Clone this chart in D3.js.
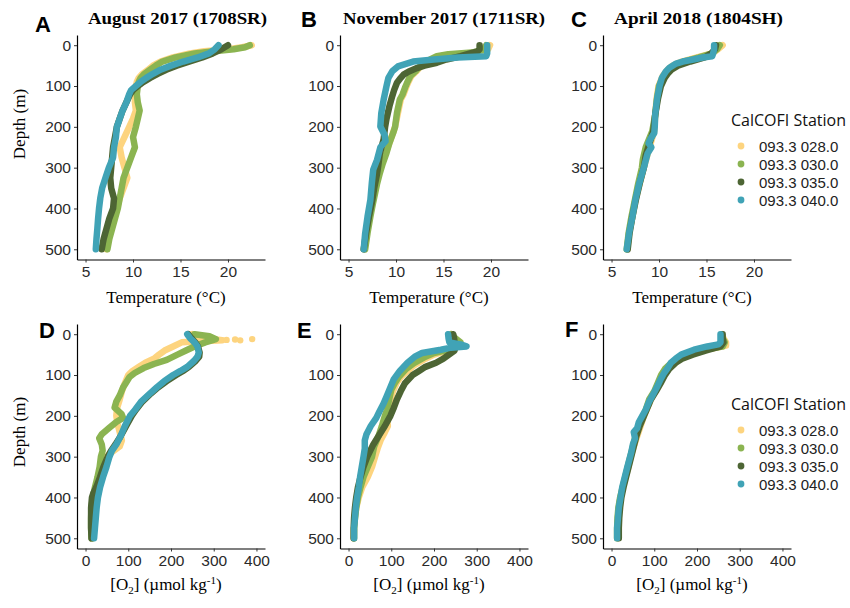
<!DOCTYPE html>
<html>
<head>
<meta charset="utf-8">
<script src="https://cdn.jsdelivr.net/npm/d3@7"></script>
<style>
  body { margin: 0; background: #fff; }
  svg { display: block; }
</style>
</head>
<body>
<svg id="chart" width="850" height="608"></svg>
<script>
// stations, in draw order (last one on top)
const stations = ["093.3 028.0", "093.3 030.0", "093.3 035.0", "093.3 040.0"];
const stationColors = ["#fdd47f", "#8bb451", "#4d6534", "#40a3b6"];

const depthTicks = [0, 100, 200, 300, 400, 500];
const tempTicks = [5, 10, 15, 20];
const oxyTicks = [0, 100, 200, 300, 400];

// [depth (m), temperature (°C)]
const augTemp028 = [[0,22.5],[5,21.5],[10,20.0],[15,17.5],[20,16.0],[30,14.2],[40,12.9],[50,12.1],[60,11.6],[70,11.0],[80,10.6],[90,10.4],[100,10.3],[120,10.2],[140,10.2],[160,10.3],[180,10.0],[200,9.6],[225,9.1],[250,8.6],[275,8.8],[300,9.1],[325,9.4],[350,9.0],[375,8.6],[400,8.3],[425,8.0],[450,7.7],[475,7.4],[500,7.2]];
const augTemp030 = [[0,22.3],[5,21.8],[10,20.6],[15,18.5],[20,16.5],[30,14.5],[40,13.1],[50,12.4],[60,11.8],[70,11.2],[80,10.8],[90,10.6],[100,10.5],[120,10.4],[140,10.5],[160,10.7],[180,10.5],[200,10.3],[225,10.0],[250,10.2],[275,9.8],[300,9.4],[325,9.0],[350,8.8],[375,8.6],[400,8.4],[425,8.1],[450,7.8],[475,7.5],[500,7.3]];
const augTemp035 = [[0,20.0],[10,19.3],[20,18.4],[30,17.3],[40,15.9],[50,14.6],[60,13.5],[70,12.6],[80,11.8],[90,11.1],[100,10.5],[110,10.0],[120,9.7],[140,9.3],[160,8.9],[180,8.6],[200,8.3],[225,8.1],[250,7.9],[275,7.8],[300,7.7],[325,7.6],[350,7.7],[375,8.0],[400,7.9],[425,7.5],[450,7.2],[475,6.9],[500,6.7]];
const augTemp040 = [[0,19.0],[10,18.6],[20,18.0],[30,16.8],[40,15.3],[50,14.0],[60,12.9],[70,12.1],[80,11.4],[90,10.8],[100,10.3],[110,9.8],[120,9.6],[140,9.3],[160,8.9],[180,8.6],[200,8.3],[225,8.2],[250,8.0],[275,7.9],[300,7.45],[325,7.1],[350,6.75],[375,6.55],[400,6.42],[425,6.32],[450,6.24],[475,6.15],[500,6.08]];

const novTemp028 = [[0,19.9],[10,19.7],[18,18.5],[22,16.5],[27,15.0],[35,14.0],[45,13.1],[52,12.6],[65,12.1],[76,11.6],[90,11.3],[101,11.1],[120,10.8],[133,10.5],[166,10.2],[200,9.9],[240,9.3],[264,8.9],[290,8.4],[313,8.1],[340,7.8],[362,7.6],[390,7.4],[420,7.2],[460,6.9],[500,6.6]];
const novTemp030 = [[0,19.5],[10,19.3],[18,18.0],[22,15.5],[27,14.3],[35,13.6],[45,13.0],[52,12.5],[65,12.0],[76,11.5],[90,11.2],[101,11.0],[120,10.7],[133,10.4],[166,10.1],[200,9.9],[215,9.7],[240,9.3],[264,9.0],[290,8.6],[313,8.3],[340,8.0],[362,7.8],[390,7.55],[420,7.3],[460,7.0],[500,6.75]];
const novTemp035 = [[0,18.8],[10,18.8],[15,18.6],[20,17.8],[27,16.8],[35,15.3],[43,14.3],[50,13.0],[56,12.2],[65,11.3],[72,10.8],[80,10.5],[92,10.1],[110,9.8],[125,9.6],[150,9.3],[180,9.0],[200,8.85],[230,8.7],[265,8.3],[300,8.1],[315,8.0],[350,7.7],[380,7.5],[420,7.15],[460,6.85],[500,6.6]];
const novTemp040 = [[0,19.6],[10,19.6],[20,19.6],[27,19.5],[30,16.5],[35,14.0],[40,11.8],[52,10.2],[64,9.6],[80,9.2],[100,9.0],[133,8.7],[166,8.45],[199,8.35],[220,8.8],[235,8.9],[250,8.35],[281,8.0],[305,7.6],[338,7.45],[379,7.3],[420,7.0],[461,6.75],[500,6.6]];

const aprTemp028 = [[0,16.7],[10,16.2],[20,15.6],[30,14.0],[40,12.4],[50,11.4],[60,10.9],[75,10.4],[100,9.95],[130,9.75],[170,9.6],[210,9.5],[250,9.0],[300,8.4],[340,7.95],[380,7.5],[420,7.2],[460,6.85],[500,6.65]];
const aprTemp030 = [[0,16.4],[10,16.1],[20,15.6],[30,14.2],[40,12.6],[50,11.6],[60,11.0],[75,10.5],[100,10.0],[130,9.8],[170,9.6],[210,9.3],[250,8.6],[280,8.3],[300,8.2],[340,7.8],[380,7.45],[420,7.1],[460,6.8],[500,6.6]];
const aprTemp035 = [[0,16.0],[10,15.9],[20,15.5],[30,14.8],[40,13.3],[50,12.0],[60,11.3],[70,10.9],[80,10.6],[100,10.2],[130,9.9],[170,9.6],[210,9.4],[240,9.0],[270,8.6],[300,8.4],[340,7.95],[380,7.55],[420,7.2],[460,6.9],[500,6.7]];
const aprTemp040 = [[0,15.8],[10,15.8],[20,15.7],[27,15.6],[30,14.6],[35,13.6],[40,12.5],[45,11.8],[55,11.1],[65,10.7],[80,10.3],[100,10.05],[130,9.8],[170,9.6],[200,9.55],[215,9.5],[230,9.1],[240,8.9],[250,9.2],[265,8.8],[300,8.4],[340,7.9],[380,7.5],[420,7.2],[460,6.85],[500,6.6]];

// [depth (m), O2 (µmol/kg)]
const augOxy028 = [[0,250],[8,275],[12,300],[15,320],[20,225],[30,205],[40,185],[50,172],[60,160],[70,140],[80,125],[90,110],[100,100],[120,92],[140,85],[160,80],[180,74],[200,72],[220,75],[240,80],[260,85],[275,80],[290,60],[300,50],[325,42],[350,33],[375,25],[400,19],[425,16],[450,15],[475,15],[500,16]];
const augOxy028Surface = [[14,330],[13,350],[15,362],[12,390]];
const augOxy030 = [[0,255],[5,290],[12,305],[20,280],[30,255],[40,235],[50,215],[63,190],[73,160],[83,136],[95,115],[105,103],[120,94],[130,88],[150,80],[165,72],[180,68],[195,84],[205,88],[215,72],[230,55],[245,38],[255,32],[270,38],[285,40],[300,36],[325,33],[350,28],[375,22],[400,17],[425,14],[450,13],[475,13],[500,14]];
const augOxy035 = [[0,240],[10,248],[20,257],[30,263],[45,267],[55,266],[65,258],[80,242],[90,228],[100,212],[115,190],[130,170],[145,153],[165,133],[185,118],[200,108],[225,95],[250,82],[270,70],[285,60],[300,52],[325,42],[350,34],[375,25],[390,18],[400,15],[425,13],[450,13],[475,13],[500,14]];
const augOxy040 = [[0,238],[10,245],[20,255],[30,262],[45,265],[55,262],[65,254],[80,238],[90,222],[100,205],[115,184],[130,167],[145,151],[165,130],[185,116],[200,104],[225,92],[250,82],[270,72],[285,62],[300,56],[325,49],[350,41],[375,34],[400,29],[425,26],[450,24],[475,22],[500,20]];

const novOxy028 = [[0,240],[10,248],[20,258],[30,255],[40,230],[50,200],[60,180],[75,155],[90,138],[105,122],[120,112],[140,104],[160,98],[185,93],[200,90],[225,92],[240,85],[260,75],[280,68],[300,62],[325,55],[350,45],[375,32],[400,24],[425,18],[450,15],[475,13],[500,12]];
const novOxy030 = [[0,240],[10,250],[20,262],[30,258],[40,225],[46,200],[55,180],[71,153],[85,135],[104,118],[120,108],[136,100],[160,95],[185,90],[200,85],[225,78],[250,70],[275,60],[300,55],[325,45],[350,35],[375,28],[400,22],[425,18],[450,15],[475,13],[500,13]];
const novOxy035 = [[0,245],[10,247],[20,248],[30,250],[40,248],[50,235],[60,222],[70,205],[80,180],[90,165],[100,150],[120,132],[140,122],[160,113],[180,106],[200,98],[225,85],[250,70],[270,58],[300,44],[325,35],[350,28],[375,22],[400,18],[425,15],[450,13],[475,12],[500,12]];
const novOxy040 = [[0,233],[10,234],[20,236],[25,262],[30,276],[33,240],[38,216],[46,172],[55,155],[70,138],[90,120],[110,106],[130,98],[150,90],[170,82],[190,72],[205,65],[225,52],[245,42],[260,38],[280,38],[300,35],[325,31],[350,27],[375,24],[400,20],[425,17],[450,15],[475,13],[500,13]];

const aprOxy028 = [[0,258],[10,262],[20,268],[28,268],[35,235],[40,205],[50,178],[60,158],[70,142],[85,128],[100,118],[120,110],[140,102],[160,92],[185,82],[200,76],[225,68],[250,60],[275,52],[300,45],[325,39],[350,33],[375,27],[400,21],[425,17],[450,15],[475,14],[500,14]];
const aprOxy030 = [[0,258],[10,260],[20,265],[30,260],[35,230],[40,200],[50,175],[60,155],[70,140],[85,125],[100,116],[120,108],[140,100],[160,88],[185,80],[200,74],[225,64],[250,56],[275,50],[300,44],[325,38],[350,32],[375,26],[400,20],[425,16],[450,14],[475,13],[500,13]];
const aprOxy035 = [[0,260],[10,260],[20,262],[30,255],[40,220],[50,190],[60,165],[70,150],[85,135],[100,125],[120,115],[140,104],[160,92],[185,82],[200,76],[225,66],[250,58],[275,52],[300,46],[325,40],[350,34],[375,28],[400,23],[425,20],[450,18],[475,17],[500,17]];
const aprOxy040 = [[0,255],[10,255],[20,255],[25,250],[30,224],[38,193],[50,163],[60,150],[70,139],[85,130],[95,123],[110,115],[130,106],[150,96],[165,88],[185,80],[200,72],[215,64],[230,60],[240,52],[255,55],[270,50],[290,46],[325,37],[350,31],[375,25],[400,21],[425,17],[450,15],[475,13],[500,13]];

const panels = [
  { letter: "A", title: "August 2017 (1708SR)", row: 0, col: 0, kind: "temp", series: [augTemp028, augTemp030, augTemp035, augTemp040] },
  { letter: "B", title: "November 2017 (1711SR)", row: 0, col: 1, kind: "temp", series: [novTemp028, novTemp030, novTemp035, novTemp040] },
  { letter: "C", title: "April 2018 (1804SH)", row: 0, col: 2, kind: "temp", series: [aprTemp028, aprTemp030, aprTemp035, aprTemp040] },
  { letter: "D", row: 1, col: 0, kind: "oxy", series: [augOxy028, augOxy030, augOxy035, augOxy040], extra: [augOxy028Surface, null, null, null] },
  { letter: "E", row: 1, col: 1, kind: "oxy", series: [novOxy028, novOxy030, novOxy035, novOxy040] },
  { letter: "F", row: 1, col: 2, kind: "oxy", series: [aprOxy028, aprOxy030, aprOxy035, aprOxy040] }
];

const svg = d3.select("#chart");

// layout
const colLeft = [77, 340, 603];
const panelW = 188;
const rowTop = [35, 324];
const panelH = 224.5;
const letterPos = [[35, 32], [301, 27], [571, 27], [39, 338], [297, 338], [565, 337]];
const titlePos = [[88, 24, 179], [343, 24, 202], [614, 24, 169]];

const sans = "'Liberation Sans', Arial, sans-serif";
const serif = "'Liberation Serif', 'DejaVu Serif', serif";

panels.forEach((p, i) => {
  const x0 = colLeft[p.col], y0 = rowTop[p.row];
  const x = d3.scaleLinear()
    .domain(p.kind === "temp" ? [4.1, 23.9] : [-20, 420])
    .range([x0, x0 + panelW]);
  const y = d3.scaleLinear().domain([-25, 525]).range([y0, y0 + panelH]);

  const g = svg.append("g");

  // profiles, drawn as thick round lines so they look like packed dots
  const line = d3.line().x(d => x(d[1])).y(d => y(d[0]));
  p.series.forEach((s, k) => {
    g.append("path").datum(s)
      .attr("d", line)
      .attr("fill", "none")
      .attr("stroke", stationColors[k])
      .attr("stroke-width", 6.5)
      .attr("stroke-linejoin", "round")
      .attr("stroke-linecap", "round");
    if (p.extra && p.extra[k]) {
      g.selectAll(null).data(p.extra[k]).enter().append("circle")
        .attr("cx", d => x(d[1])).attr("cy", d => y(d[0])).attr("r", 3.2)
        .attr("fill", stationColors[k]);
    }
  });

  // axes
  const yAxis = d3.axisLeft(y).tickValues(depthTicks).tickSize(3).tickSizeOuter(0).tickPadding(3);
  const xAxis = d3.axisBottom(x).tickValues(p.kind === "temp" ? tempTicks : oxyTicks)
    .tickSize(3).tickSizeOuter(0).tickPadding(3);
  const ya = g.append("g").attr("transform", `translate(${x0},0)`).call(yAxis);
  const xa = g.append("g").attr("transform", `translate(0,${y0 + panelH})`).call(xAxis);
  [ya, xa].forEach(a => {
    a.select(".domain").attr("stroke", "#000").attr("stroke-width", 1.2);
    a.selectAll(".tick line").attr("stroke", "#333");
    a.selectAll(".tick text").attr("fill", "#2a2a2a").style("font-family", sans).style("font-size", "15.5px");
  });

  // panel letter
  svg.append("text").attr("x", letterPos[i][0]).attr("y", letterPos[i][1])
    .style("font-family", sans).style("font-weight", "bold").style("font-size", "22px")
    .text(p.letter);

  // title
  if (p.title) {
    svg.append("text").attr("x", titlePos[p.col][0]).attr("y", titlePos[p.col][1])
      .attr("textLength", titlePos[p.col][2]).attr("lengthAdjust", "spacingAndGlyphs")
      .style("font-family", serif).style("font-weight", "bold").style("font-size", "16px")
      .text(p.title);
  }

  // x axis title
  const cx = x0 + panelW / 2 - 5;
  if (p.kind === "temp") {
    svg.append("text").attr("x", cx).attr("y", y0 + panelH + 43)
      .attr("text-anchor", "middle").style("font-family", serif).style("font-size", "17px")
      .text("Temperature (°C)");
  } else {
    const t = svg.append("text").attr("x", cx).attr("y", y0 + panelH + 41)
      .attr("text-anchor", "middle").style("font-family", serif).style("font-size", "17px");
    t.append("tspan").text("[O");
    t.append("tspan").attr("dy", 4).style("font-size", "11px").text("2");
    t.append("tspan").attr("dy", -4).text("] (µmol kg");
    t.append("tspan").attr("dy", -6).style("font-size", "11px").text("-1");
    t.append("tspan").attr("dy", 6).text(")");
  }

  // y axis title
  if (p.col === 0) {
    const cy = p.row === 0 ? 124 : 432;
    svg.append("text").attr("transform", `translate(25,${cy}) rotate(-90)`)
      .attr("text-anchor", "middle").style("font-family", serif).style("font-size", "17px")
      .text("Depth (m)");
  }
});

// legends
[126, 410].forEach(ty => {
  const lg = svg.append("g");
  lg.append("text").attr("x", 731).attr("y", ty)
    .style("font-family", "'Open Sans', 'Noto Sans', sans-serif").style("font-size", "16px")
    .attr("fill", "#111").text("CalCOFI Station");
  stations.forEach((s, k) => {
    const cy = ty + 20 + k * 18;
    lg.append("circle").attr("cx", 741).attr("cy", cy).attr("r", 3.4).attr("fill", stationColors[k]);
    lg.append("text").attr("x", 759).attr("y", cy + 5.5)
      .style("font-family", sans).style("font-size", "15px").attr("fill", "#222").text(s);
  });
});
</script>
</body>
</html>
